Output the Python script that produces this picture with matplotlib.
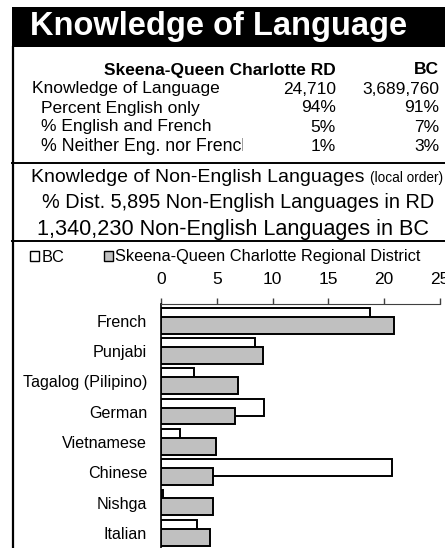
import matplotlib
matplotlib.use("Agg")
import matplotlib.pyplot as plt
from matplotlib.patches import Rectangle, Patch
from matplotlib.lines import Line2D
from matplotlib.transforms import Bbox, TransformedBbox

plt.rcParams["font.family"] = ["Liberation Sans", "DejaVu Sans"]

# ---------- Datos ----------
title = "Knowledge of Language"
col_headers = ["Skeena-Queen Charlotte RD", "BC"]
row_labels = ["Knowledge of Language", "Percent English only",
              "% English and French", "% Neither Eng. nor French"]
rd_values = ["24,710", "94%", "5%", "1%"]
bc_values = ["3,689,760", "91%", "7%", "3%"]

languages = ["French", "Punjabi", "Tagalog (Pilipino)", "German",
             "Vietnamese", "Chinese", "Nishga", "Italian"]
bc_pct = [18.7, 8.4, 3.0, 9.2, 1.7, 20.7, 0.15, 3.2]
rd_pct = [20.9, 9.1, 6.9, 6.6, 4.9, 4.7, 4.7, 4.4]
x_ticks = [0, 5, 10, 15, 20, 25]

W, H = 445, 548


def fx(x):
    return x / W


def fy(y):
    return 1 - y / H


fig = plt.figure(figsize=(W / 100, H / 100), dpi=100)
fig.patch.set_facecolor("white")

# ---------- Cabecera ----------
fig.patches.append(Rectangle((fx(12), fy(47)), fx(W) - fx(12), fy(7) - fy(47),
                             transform=fig.transFigure, facecolor="black",
                             edgecolor="none", zorder=0))
fig.text(fx(219), fy(27), title, color="white", fontsize=23.5,
         fontweight="bold", ha="center", va="center")

# borde izquierdo y separadores
fig.add_artist(Line2D([fx(12.7), fx(12.7)], [fy(47), 0], color="black",
                      lw=1.6, transform=fig.transFigure))
for yy in (163, 241):
    fig.add_artist(Line2D([fx(12), 1], [fy(yy), fy(yy)], color="black",
                          lw=1.4, transform=fig.transFigure))

# ---------- Tabla ----------
fs = 12.5
fig.text(fx(336), fy(70), col_headers[0], fontsize=fs, fontweight="bold",
         ha="right", va="center")
fig.text(fx(439), fy(70), col_headers[1], fontsize=fs, fontweight="bold",
         ha="right", va="center")
row_y = [89, 108, 127, 146]
row_x = [32, 41, 41, 41]
# la celda corta el texto largo ("Frenck")
clip = TransformedBbox(Bbox([[0, 0], [fx(243), 1]]), fig.transFigure)
for i, lab in enumerate(row_labels):
    fs_row = 12.8 if i == 3 else fs
    t = fig.text(fx(row_x[i]), fy(row_y[i]), lab, fontsize=fs_row,
                 ha="left", va="center", clip_on=True)
    t.set_clip_box(clip)
    fig.text(fx(336), fy(row_y[i]), rd_values[i], fontsize=fs,
             ha="right", va="center")
    fig.text(fx(439), fy(row_y[i]), bc_values[i], fontsize=fs,
             ha="right", va="center")

# ---------- Subtítulos ----------
fig.text(fx(31), fy(177), "Knowledge of Non-English Languages",
         fontsize=14, ha="left", va="center")
fig.text(fx(443), fy(178), "(local order)", fontsize=9.8,
         ha="right", va="center")
fig.text(fx(238), fy(203), "% Dist. 5,895 Non-English Languages in RD",
         fontsize=14.3, ha="center", va="center")
fig.text(fx(233), fy(229), "1,340,230 Non-English Languages in BC",
         fontsize=15.6, ha="center", va="center")

# ---------- Gráfica ----------
ax = fig.add_axes([fx(161), 0, fx(440) - fx(161), fy(304)])
ypos = list(range(len(languages)))
h = 0.56
d = 0.29
ax.barh([y - d / 2 for y in ypos], bc_pct, height=h, color="white",
        edgecolor="black", linewidth=1.4, zorder=2, label="BC")
ax.barh([y + d / 2 for y in ypos], rd_pct, height=h, color="#c0c0c0",
        edgecolor="black", linewidth=1.4, zorder=3,
        label="Skeena-Queen Charlotte Regional District")

ax.set_xlim(0, 25)
ax.set_ylim(7.5, -0.55)
ax.set_xticks(x_ticks)
ax.set_yticks(ypos)
ax.set_yticklabels(languages, fontsize=11.6)
ax.tick_params(axis="y", length=0, pad=10)
ax.xaxis.tick_top()
ax.tick_params(axis="x", direction="out", length=4, width=1,
               color="#404040", labelsize=12.5, pad=8)
for s in ("right", "bottom"):
    ax.spines[s].set_visible(False)
ax.spines["top"].set_color("#404040")
ax.spines["left"].set_linewidth(1.2)
ax.set_facecolor("none")

handles = [Patch(facecolor="white", edgecolor="black", linewidth=1.0),
           Patch(facecolor="#c0c0c0", edgecolor="black", linewidth=1.0)]
fig.legend(handles, ["BC", "Skeena-Queen Charlotte Regional District"],
           loc="center left", bbox_to_anchor=(fx(30), fy(257)), ncol=2,
           frameon=False, fontsize=11.8, handlelength=0.55,
           handleheight=0.55, handletextpad=0.15, columnspacing=2.4,
           borderaxespad=0, borderpad=0)

fig.savefig("out.png", dpi=100)
